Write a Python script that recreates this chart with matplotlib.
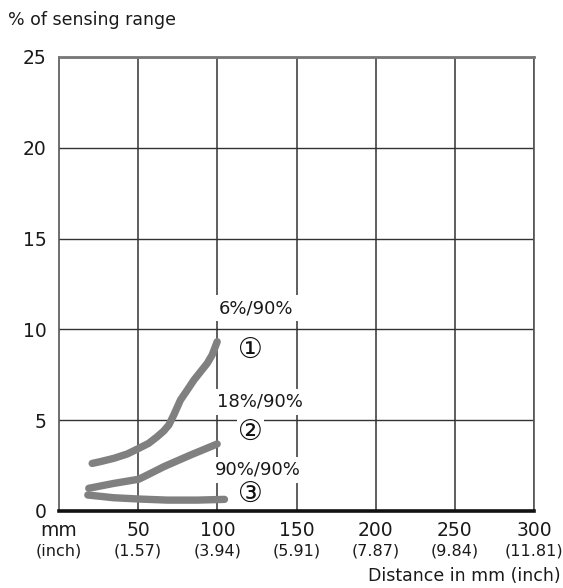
import matplotlib
matplotlib.use("Agg")
import matplotlib.pyplot as plt
import matplotlib.transforms as mtransforms

plt.rcParams['font.family'] = ['DejaVu Sans', 'Noto Sans CJK SC']

# Data
curve1_x = [20.95, 26.2, 34.6, 43.1, 50.4, 56.7, 62.0, 66.2, 69.4, 72.5, 76.7,
            81.0, 85.2, 89.4, 93.6, 96.7, 99.9]
curve1_y = [2.62, 2.72, 2.90, 3.14, 3.45, 3.73, 4.09, 4.41, 4.74, 5.29, 6.11,
            6.66, 7.21, 7.67, 8.13, 8.59, 9.32]
curve2_x = [18.8, 34.6, 50.4, 58.0, 66.2, 83, 99.9]
curve2_y = [1.25, 1.52, 1.75, 2.08, 2.44, 3.08, 3.69]
curve3_x = [18.2, 34.6, 50.4, 68.3, 87.3, 104.5]
curve3_y = [0.88, 0.73, 0.66, 0.6, 0.6, 0.64]

x_ticks = [50, 100, 150, 200, 250, 300]
x_mm_labels = ["50", "100", "150", "200", "250", "300"]
x_inch_labels = ["(1.57)", "(3.94)", "(5.91)", "(7.87)", "(9.84)", "(11.81)"]
y_ticks = [0, 5, 10, 15, 20, 25]

labels_text = ["6%/90%", "18%/90%", "90%/90%"]
labels_num = ["①", "②", "③"]
label_x = [124.6, 126.7, 125.7]
label_y = [11.17, 6.02, 2.26]
num_x = [121, 121, 121]
num_y = [8.87, 4.37, 0.97]

fig = plt.figure(figsize=(5.63, 5.88), dpi=100)
ax = fig.add_axes([59/563, 1 - 511/588, (534-59)/563, (511-57)/588])

ax.set_xlim(0, 300)
ax.set_ylim(0, 25)

grid_color = '#333333'
for xv in x_ticks:
    ax.axvline(xv, color=grid_color, lw=1.1, zorder=1)
for yv in y_ticks[1:]:
    ax.axhline(yv, color=grid_color, lw=1.0, zorder=1)

for s in ['left', 'top', 'right']:
    ax.spines[s].set_color('#555555')
    ax.spines[s].set_linewidth(1.2)
ax.spines['top'].set_color('#777777')
ax.spines['top'].set_linewidth(2.0)
ax.spines['bottom'].set_color('#111111')
ax.spines['bottom'].set_linewidth(2.6)

line_color = '#808080'
for xs, ys in [(curve1_x, curve1_y), (curve2_x, curve2_y), (curve3_x, curve3_y)]:
    ax.plot(xs, ys, color=line_color, lw=5.3, solid_capstyle='round',
            solid_joinstyle='round', zorder=3)

for t, x, y in zip(labels_text, label_x, label_y):
    ax.text(x, y, t, fontsize=13, ha='center', va='center', color='#1a1a1a',
            bbox=dict(facecolor='white', edgecolor='none', pad=3), zorder=4)
for t, x, y in zip(labels_num, num_x, num_y):
    ax.text(x, y, t, fontsize=20, ha='center', va='center', color='#111111',
            bbox=dict(facecolor='white', edgecolor='none', pad=0.5), zorder=4)

ax.set_yticks(y_ticks)
ax.set_yticklabels([str(v) for v in y_ticks], fontsize=13.5, color='#1a1a1a')
ax.tick_params(axis='y', length=0, pad=9)
ax.set_xticks([])

trans = mtransforms.blended_transform_factory(ax.transData, fig.transFigure)
for xv, m, i in zip(x_ticks, x_mm_labels, x_inch_labels):
    ax.text(xv, 1 - 530/588, m, transform=trans, fontsize=13.5, ha='center',
            va='center', color='#1a1a1a')
    ax.text(xv, 1 - 551/588, i, transform=trans, fontsize=11.5, ha='center',
            va='center', color='#1a1a1a')
ax.text(0, 1 - 530/588, "mm", transform=trans, fontsize=13.5, ha='center',
        va='center', color='#1a1a1a')
ax.text(0, 1 - 551/588, "(inch)", transform=trans, fontsize=11.5, ha='center',
        va='center', color='#1a1a1a')

fig.text(561/563, 1 - 576/588, "Distance in mm (inch)", fontsize=12.5, ha='right',
         va='center', color='#1a1a1a')
fig.text(8/563, 1 - 20/588, "% of sensing range", fontsize=12.5, ha='left',
         va='center', color='#1a1a1a')

fig.savefig("out.png", dpi=100)
